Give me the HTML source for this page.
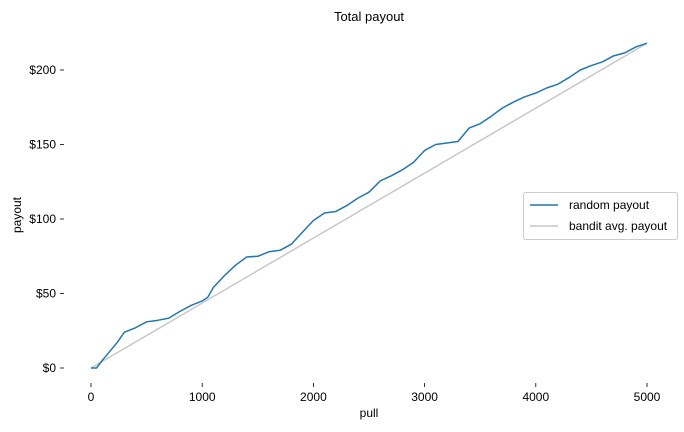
<!DOCTYPE html>
<html><head><meta charset="utf-8"><style>
html,body{margin:0;padding:0;background:#fff;}
svg{display:block;font-family:"Liberation Sans",sans-serif;}
</style></head><body>
<svg id="chart" width="684" height="432" viewBox="0 0 684 432">
<text x="369" y="21" text-anchor="middle" font-size="13" fill="#000">Total payout</text>
<text x="369" y="417" text-anchor="middle" font-size="12">pull</text>
<text transform="translate(21,215) rotate(-90)" text-anchor="middle" font-size="12">payout</text>
<g id="xticks"></g>
<g id="yticks"></g>
<polyline id="bandit" fill="none" stroke="#c8c8c8" stroke-width="1.5"/>
<polyline id="random" fill="none" stroke="#1f77b4" stroke-width="1.5" stroke-linejoin="round"/>
<g>
<rect x="523.5" y="192.5" width="154" height="47" rx="2" fill="#fff" stroke="#ccc"/>
<line x1="530" y1="205" x2="558" y2="205" stroke="#1f77b4" stroke-width="1.5"/>
<text x="569" y="209" font-size="12">random payout</text>
<line x1="530" y1="226" x2="558" y2="226" stroke="#c8c8c8" stroke-width="1.5"/>
<text x="569" y="230" font-size="12">bandit avg. payout</text>
</g>
</svg>
<script>
const pulls = [0,50,100,234,300,400,500,600,700,800,900,1000,1050,1100,1200,1300,1400,1500,1600,1700,1800,1900,2000,2100,2200,2300,2400,2500,2600,2700,2800,2900,3000,3100,3200,3300,3400,3500,3600,3700,3800,3900,4000,4100,4200,4300,4400,4500,4600,4700,4800,4900,5000];
const randomPayout = [0,0,5,17,24,27,31,32,33.5,38,42,45,47.5,54,62,69,74.5,75,78,79,83,91,99,104,105,109,114,118,125.5,129,133,138,146,150,151,152,161,164,169,174.5,178.5,182,184.5,188,190.5,195,200,203,205.5,209.5,211.5,215.5,218];
const banditPulls = [0,5000];
const banditPayout = [0,218];
const xTicks = [0,1000,2000,3000,4000,5000];
const yTicks = [0,50,100,150,200];

const X = v => 91 + v*(647-91)/5000;
const Y = v => 368 - v*(368-70)/200;
const NS = "http://www.w3.org/2000/svg";

document.getElementById('random').setAttribute('points', pulls.map((p,i)=>X(p)+','+Y(randomPayout[i])).join(' '));
document.getElementById('bandit').setAttribute('points', banditPulls.map((p,i)=>X(p)+','+Y(banditPayout[i])).join(' '));

const xg = document.getElementById('xticks');
xTicks.forEach(t=>{
  const l = document.createElementNS(NS,'line');
  l.setAttribute('x1',X(t));l.setAttribute('x2',X(t));l.setAttribute('y1',383);l.setAttribute('y2',387);
  l.setAttribute('stroke','#000');l.setAttribute('stroke-width','0.8');
  
  
  xg.appendChild(l);
  const tx = document.createElementNS(NS,'text');
  tx.setAttribute('x',X(t));tx.setAttribute('y',401);tx.setAttribute('text-anchor','middle');tx.setAttribute('font-size','12');
  tx.textContent = t;
  
  
  xg.appendChild(tx);
});
const yg = document.getElementById('yticks');
yTicks.forEach(t=>{
  const l = document.createElementNS(NS,'line');
  l.setAttribute('x1',60);l.setAttribute('x2',64);l.setAttribute('y1',Y(t));l.setAttribute('y2',Y(t));
  l.setAttribute('stroke','#000');l.setAttribute('stroke-width','0.8');
  
  
  yg.appendChild(l);
  const tx = document.createElementNS(NS,'text');
  tx.setAttribute('x',56);tx.setAttribute('y',Y(t)+4);tx.setAttribute('text-anchor','end');tx.setAttribute('font-size','12');
  tx.textContent = '$'+t;
  
  
  yg.appendChild(tx);
});
</script>
</body></html>
